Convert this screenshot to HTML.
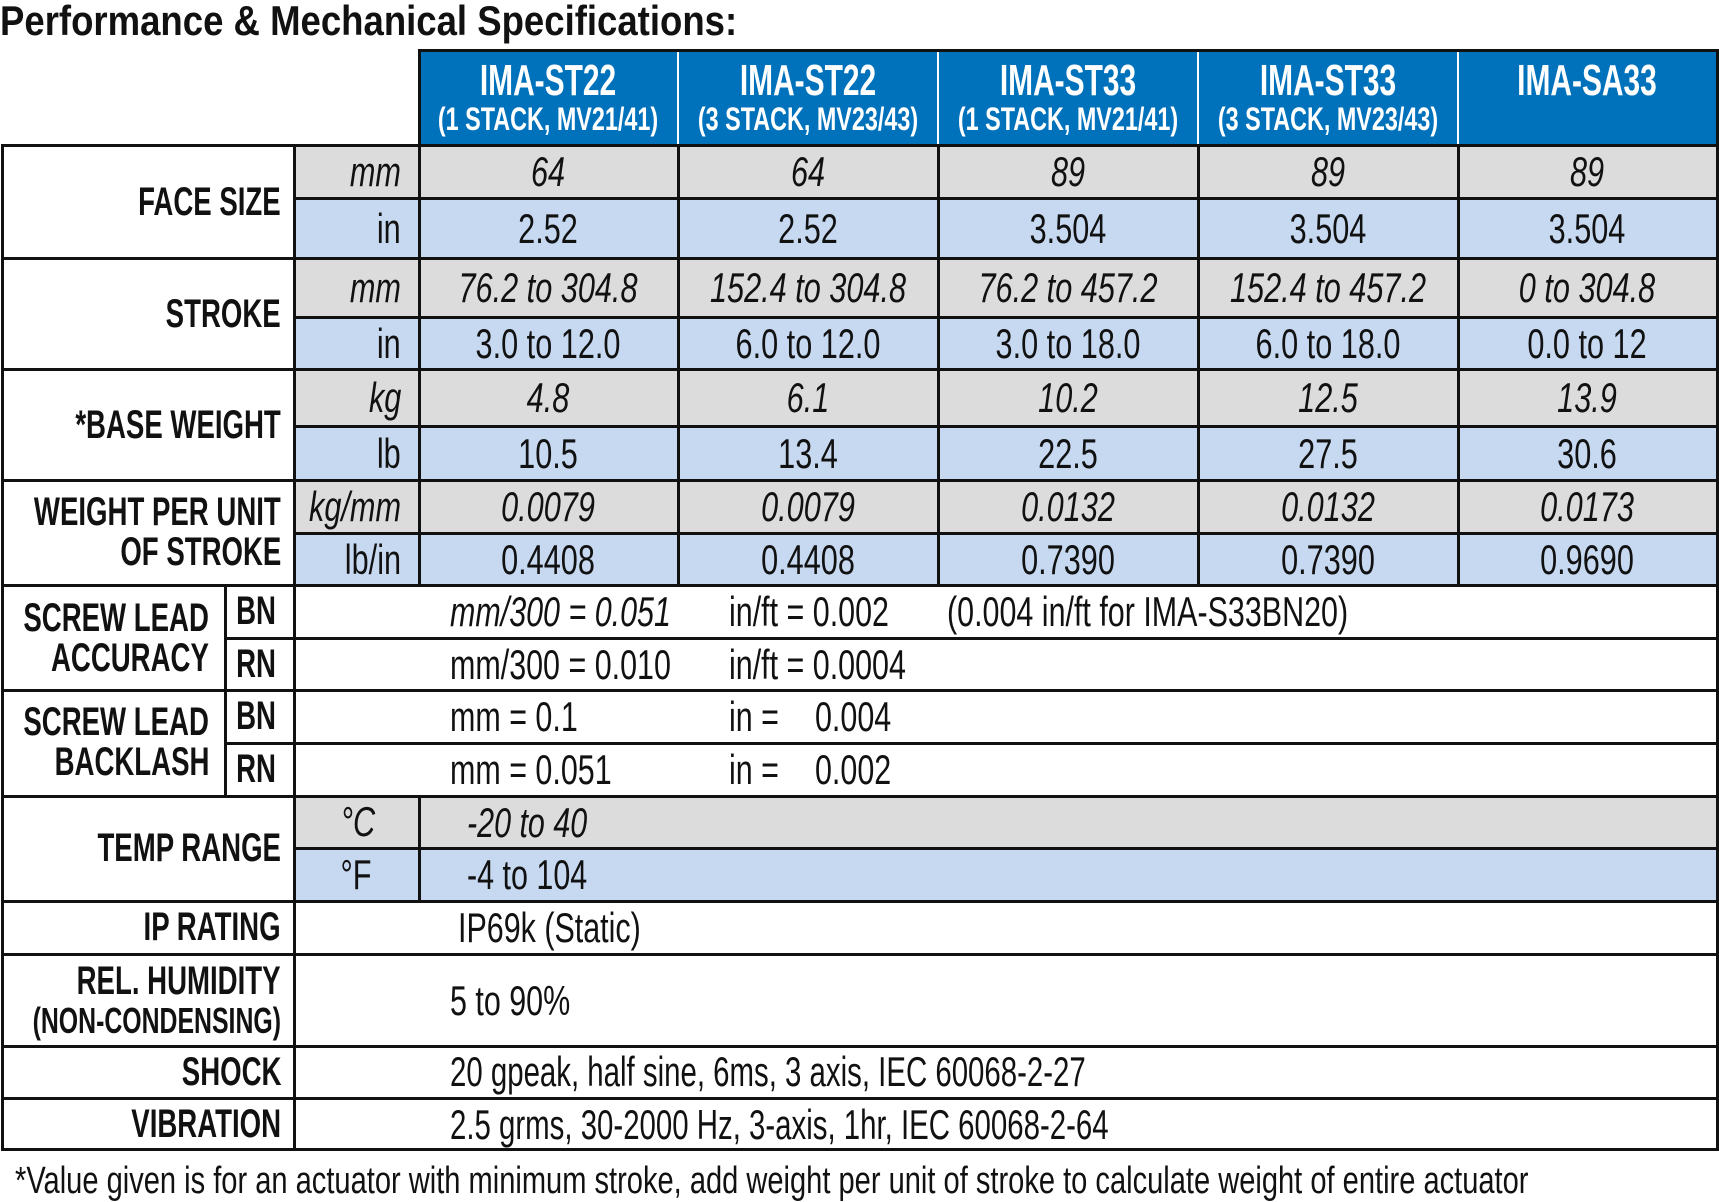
<!DOCTYPE html>
<html><head><meta charset="utf-8"><style>
body{margin:0;width:1719px;height:1201px;background:#fff;position:relative;overflow:hidden;font-family:"Liberation Sans",sans-serif;color:#111}
.b{position:absolute}
.t{position:absolute;white-space:nowrap;line-height:1;font-size:42px}
.c{transform:translate(-50%,-50%) scaleX(.73)}
.l{transform-origin:left center;transform:translateY(-50%) scaleX(.725)}
.r{transform-origin:right center;transform:translateY(-50%) scaleX(.73)}
.bo{font-weight:bold;font-size:40px}
.bo.c{transform:translate(-50%,-50%) scaleX(.69)}
.bo.r{transform:translateY(-50%) scaleX(.69)}
i{font-style:italic}
.h{color:#fff;font-weight:bold}
.h1{font-size:44px;transform:translate(-50%,-50%) scaleX(.68)!important}
.h2{font-size:32px;transform:translate(-50%,-50%) scaleX(.73)!important}
.hl{position:absolute;height:3px;background:#111}
.vl{position:absolute;width:3px;background:#111}
</style></head><body>
<div class="t bo l" style="left:0;top:21px;font-size:42px;transform:translateY(-50%) scaleX(.87)">Performance &amp; Mechanical Specifications:</div>

<div class="b" style="left:419px;top:50px;width:1298px;height:95px;background:#0072bc"></div>
<div class="b" style="left:294px;top:145px;width:1423px;height:53px;background:#dcdcdc"></div>
<div class="b" style="left:294px;top:198px;width:1423px;height:60px;background:#c6d9f1"></div>
<div class="b" style="left:294px;top:258px;width:1423px;height:59px;background:#dcdcdc"></div>
<div class="b" style="left:294px;top:317px;width:1423px;height:52px;background:#c6d9f1"></div>
<div class="b" style="left:294px;top:369px;width:1423px;height:57px;background:#dcdcdc"></div>
<div class="b" style="left:294px;top:426px;width:1423px;height:54px;background:#c6d9f1"></div>
<div class="b" style="left:294px;top:480px;width:1423px;height:53px;background:#dcdcdc"></div>
<div class="b" style="left:294px;top:533px;width:1423px;height:52px;background:#c6d9f1"></div>
<div class="b" style="left:294px;top:796px;width:1423px;height:52px;background:#dcdcdc"></div>
<div class="b" style="left:294px;top:848px;width:1423px;height:53px;background:#c6d9f1"></div>

<div class="b" style="left:677px;top:50px;width:2px;height:95px;background:#fff"></div>
<div class="b" style="left:937px;top:50px;width:2px;height:95px;background:#fff"></div>
<div class="b" style="left:1197px;top:50px;width:2px;height:95px;background:#fff"></div>
<div class="b" style="left:1457px;top:50px;width:2px;height:95px;background:#fff"></div>

<div class="hl" style="left:418px;top:49px;width:1301px"></div>
<div class="hl" style="left:1px;top:144px;width:1718px"></div>
<div class="hl" style="left:294px;top:197px;width:1425px"></div>
<div class="hl" style="left:1px;top:257px;width:1718px"></div>
<div class="hl" style="left:294px;top:316px;width:1425px"></div>
<div class="hl" style="left:1px;top:368px;width:1718px"></div>
<div class="hl" style="left:294px;top:425px;width:1425px"></div>
<div class="hl" style="left:1px;top:479px;width:1718px"></div>
<div class="hl" style="left:294px;top:532px;width:1425px"></div>
<div class="hl" style="left:1px;top:584px;width:1718px"></div>
<div class="hl" style="left:225px;top:637px;width:1494px"></div>
<div class="hl" style="left:1px;top:689px;width:1718px"></div>
<div class="hl" style="left:225px;top:742px;width:1494px"></div>
<div class="hl" style="left:1px;top:795px;width:1718px"></div>
<div class="hl" style="left:294px;top:847px;width:1425px"></div>
<div class="hl" style="left:1px;top:900px;width:1718px"></div>
<div class="hl" style="left:1px;top:953px;width:1718px"></div>
<div class="hl" style="left:1px;top:1045px;width:1718px"></div>
<div class="hl" style="left:1px;top:1097px;width:1718px"></div>
<div class="hl" style="left:1px;top:1148px;width:1718px"></div>

<div class="vl" style="left:1px;top:144px;height:1007px"></div>
<div class="vl" style="left:293px;top:144px;height:1007px"></div>
<div class="vl" style="left:224px;top:584px;height:214px"></div>
<div class="vl" style="left:418px;top:49px;height:538px"></div>
<div class="vl" style="left:418px;top:795px;height:108px"></div>
<div class="vl" style="left:677px;top:144px;height:443px"></div>
<div class="vl" style="left:937px;top:144px;height:443px"></div>
<div class="vl" style="left:1197px;top:144px;height:443px"></div>
<div class="vl" style="left:1457px;top:144px;height:443px"></div>
<div class="vl" style="left:1716px;top:49px;height:1102px"></div>

<div class="t h c h1" style="left:548px;top:81px">IMA-ST22</div>
<div class="t h c h2" style="left:548px;top:119px">(1 STACK, MV21/41)</div>
<div class="t h c h1" style="left:808px;top:81px">IMA-ST22</div>
<div class="t h c h2" style="left:808px;top:119px">(3 STACK, MV23/43)</div>
<div class="t h c h1" style="left:1068px;top:81px">IMA-ST33</div>
<div class="t h c h2" style="left:1068px;top:119px">(1 STACK, MV21/41)</div>
<div class="t h c h1" style="left:1328px;top:81px">IMA-ST33</div>
<div class="t h c h2" style="left:1328px;top:119px">(3 STACK, MV23/43)</div>
<div class="t h c h1" style="left:1587px;top:81px">IMA-SA33</div>

<div class="t bo r" style="right:1438px;top:202px">FACE SIZE</div>
<div class="t bo r" style="right:1438px;top:314px">STROKE</div>
<div class="t bo r" style="right:1438px;top:425px">*BASE WEIGHT</div>
<div class="t bo r" style="right:1438px;top:512px">WEIGHT PER UNIT</div>
<div class="t bo r" style="right:1438px;top:552px">OF STROKE</div>
<div class="t bo r" style="right:1510px;top:618px">SCREW LEAD</div>
<div class="t bo r" style="right:1510px;top:658px">ACCURACY</div>
<div class="t bo r" style="right:1510px;top:722px">SCREW LEAD</div>
<div class="t bo r" style="right:1510px;top:762px">BACKLASH</div>
<div class="t bo c" style="left:256px;top:611px">BN</div>
<div class="t bo c" style="left:256px;top:664px">RN</div>
<div class="t bo c" style="left:256px;top:716px">BN</div>
<div class="t bo c" style="left:256px;top:769px">RN</div>
<div class="t bo r" style="right:1438px;top:848px">TEMP RANGE</div>
<div class="t bo r" style="right:1438px;top:927px">IP RATING</div>
<div class="t bo r" style="right:1438px;top:981px">REL. HUMIDITY</div>
<div class="t bo r" style="right:1438px;top:1021px;font-size:36px">(NON-CONDENSING)</div>
<div class="t bo r" style="right:1438px;top:1072px">SHOCK</div>
<div class="t bo r" style="right:1438px;top:1124px">VIBRATION</div>

<div class="t r" style="right:1318px;top:172px"><i>mm</i></div>
<div class="t r" style="right:1318px;top:229px">in</div>
<div class="t r" style="right:1318px;top:288px"><i>mm</i></div>
<div class="t r" style="right:1318px;top:344px">in</div>
<div class="t r" style="right:1318px;top:398px"><i>kg</i></div>
<div class="t r" style="right:1318px;top:454px">lb</div>
<div class="t r" style="right:1318px;top:507px"><i>kg/mm</i></div>
<div class="t r" style="right:1318px;top:560px">lb/in</div>
<div class="t c" style="left:358px;top:822px"><i>°C</i></div>
<div class="t c" style="left:356px;top:875px">°F</div>

<div class="t c" style="left:548px;top:172px"><i>64</i></div>
<div class="t c" style="left:808px;top:172px"><i>64</i></div>
<div class="t c" style="left:1068px;top:172px"><i>89</i></div>
<div class="t c" style="left:1328px;top:172px"><i>89</i></div>
<div class="t c" style="left:1587px;top:172px"><i>89</i></div>
<div class="t c" style="left:548px;top:229px">2.52</div>
<div class="t c" style="left:808px;top:229px">2.52</div>
<div class="t c" style="left:1068px;top:229px">3.504</div>
<div class="t c" style="left:1328px;top:229px">3.504</div>
<div class="t c" style="left:1587px;top:229px">3.504</div>
<div class="t c" style="left:548px;top:288px"><i>76.2 to 304.8</i></div>
<div class="t c" style="left:808px;top:288px"><i>152.4 to 304.8</i></div>
<div class="t c" style="left:1068px;top:288px"><i>76.2 to 457.2</i></div>
<div class="t c" style="left:1328px;top:288px"><i>152.4 to 457.2</i></div>
<div class="t c" style="left:1587px;top:288px"><i>0 to 304.8</i></div>
<div class="t c" style="left:548px;top:344px">3.0 to 12.0</div>
<div class="t c" style="left:808px;top:344px">6.0 to 12.0</div>
<div class="t c" style="left:1068px;top:344px">3.0 to 18.0</div>
<div class="t c" style="left:1328px;top:344px">6.0 to 18.0</div>
<div class="t c" style="left:1587px;top:344px">0.0 to 12</div>
<div class="t c" style="left:548px;top:398px"><i>4.8</i></div>
<div class="t c" style="left:808px;top:398px"><i>6.1</i></div>
<div class="t c" style="left:1068px;top:398px"><i>10.2</i></div>
<div class="t c" style="left:1328px;top:398px"><i>12.5</i></div>
<div class="t c" style="left:1587px;top:398px"><i>13.9</i></div>
<div class="t c" style="left:548px;top:454px">10.5</div>
<div class="t c" style="left:808px;top:454px">13.4</div>
<div class="t c" style="left:1068px;top:454px">22.5</div>
<div class="t c" style="left:1328px;top:454px">27.5</div>
<div class="t c" style="left:1587px;top:454px">30.6</div>
<div class="t c" style="left:548px;top:507px"><i>0.0079</i></div>
<div class="t c" style="left:808px;top:507px"><i>0.0079</i></div>
<div class="t c" style="left:1068px;top:507px"><i>0.0132</i></div>
<div class="t c" style="left:1328px;top:507px"><i>0.0132</i></div>
<div class="t c" style="left:1587px;top:507px"><i>0.0173</i></div>
<div class="t c" style="left:548px;top:560px">0.4408</div>
<div class="t c" style="left:808px;top:560px">0.4408</div>
<div class="t c" style="left:1068px;top:560px">0.7390</div>
<div class="t c" style="left:1328px;top:560px">0.7390</div>
<div class="t c" style="left:1587px;top:560px">0.9690</div>

<div class="t l" style="left:450px;top:612px"><i>mm/300 = 0.051</i></div>
<div class="t l" style="left:729px;top:612px">in/ft = 0.002</div>
<div class="t l" style="left:947px;top:612px">(0.004 in/ft for IMA-S33BN20)</div>
<div class="t l" style="left:450px;top:665px">mm/300 = 0.010</div>
<div class="t l" style="left:729px;top:665px">in/ft = 0.0004</div>
<div class="t l" style="left:450px;top:717px">mm = 0.1</div>
<div class="t l" style="left:729px;top:717px">in =</div>
<div class="t l" style="left:815px;top:717px">0.004</div>
<div class="t l" style="left:450px;top:770px">mm = 0.051</div>
<div class="t l" style="left:729px;top:770px">in =</div>
<div class="t l" style="left:815px;top:770px">0.002</div>
<div class="t l" style="left:467px;top:823px"><i>-20 to 40</i></div>
<div class="t l" style="left:467px;top:875px">-4 to 104</div>
<div class="t l" style="left:458px;top:928px">IP69k (Static)</div>
<div class="t l" style="left:450px;top:1001px">5 to 90%</div>
<div class="t l" style="left:450px;top:1072px;transform:translateY(-50%) scaleX(.7)">20 gpeak, half sine, 6ms, 3 axis, IEC 60068-2-27</div>
<div class="t l" style="left:450px;top:1125px;transform:translateY(-50%) scaleX(.7)">2.5 grms, 30-2000 Hz, 3-axis, 1hr, IEC 60068-2-64</div>

<div class="t l" style="left:15px;top:1181px;font-size:38px;transform:translateY(-50%) scaleX(.765)">*Value given is for an actuator with minimum stroke, add weight per unit of stroke to calculate weight of entire actuator</div>
</body></html>
